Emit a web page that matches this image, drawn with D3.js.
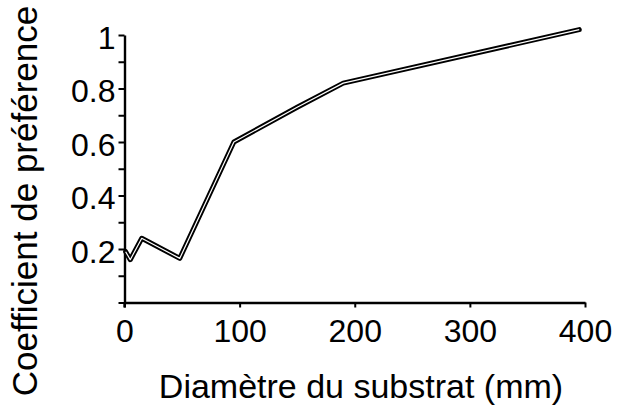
<!DOCTYPE html>
<html>
<head>
<meta charset="utf-8">
<script src="https://cdn.jsdelivr.net/npm/d3@7"></script>
<style>
  body { margin: 0; background: #fff; }
  svg text { font-family: "Liberation Sans", Arial, Helvetica, sans-serif; fill: #000; }
</style>
</head>
<body>
<svg id="chart"></svg>
<script>
var canvas_width = 623;
var canvas_height = 408;

// data
var diametre = [1, 5, 15, 48, 95, 150, 190, 395];
var coefficient = [0.19, 0.16, 0.24, 0.165, 0.60, 0.73, 0.82, 1.02];
var x_ticks = [0, 100, 200, 300, 400];
var y_major = [0.2, 0.4, 0.6, 0.8, 1];
var y_minor = [0, 0.1, 0.3, 0.5, 0.7, 0.9];
var x_title = "Diamètre du substrat (mm)";
var y_title = "Coefficient de préférence";

let svg = d3.select("#chart")
    .attr("width", canvas_width)
    .attr("height", canvas_height);

let x = d3.scaleLinear().domain([0, 400]).range([124.5, 585]);
let y = d3.scaleLinear().domain([0, 1]).range([302.5, 35]);

// y axis: domain line + all ticks
let yAxis = d3.axisLeft(y)
    .tickValues(y_major.concat(y_minor).sort(d3.ascending))
    .tickSize(6)
    .tickSizeOuter(0)
    .tickFormat(d => y_major.indexOf(d) >= 0 ? (d === 1 ? "1" : d3.format(".1f")(d)) : "");

let gy = svg.append("g")
    .attr("transform", "translate(" + x.range()[0] + ",0)")
    .call(yAxis);
gy.select(".domain").attr("stroke-width", 2.4);
gy.selectAll(".tick line").attr("stroke-width", 2);
gy.selectAll(".tick text")
    .attr("x", -9)
    .attr("dy", "0.42em")
    .style("font-size", "32px");
// axis line runs a bit below the x axis
gy.append("line")
    .attr("x1", 0).attr("x2", 0)
    .attr("y1", y(0)).attr("y2", y(0) + 5)
    .attr("stroke", "black").attr("stroke-width", 2.4);

let xAxis = d3.axisBottom(x)
    .tickValues(x_ticks)
    .tickSize(5)
    .tickSizeOuter(0)
    .tickFormat(d3.format("d"));

let gx = svg.append("g")
    .attr("transform", "translate(0," + y.range()[0] + ")")
    .call(xAxis);
gx.select(".domain").attr("stroke-width", 2.4);
gx.selectAll(".tick line").attr("stroke-width", 2);
gx.selectAll(".tick text")
    .attr("y", 17)
    .attr("dy", "0.71em")
    .style("font-size", "32px");

// double line: black outline with thin white core
let pts = diametre.map((d, i) => [d, coefficient[i]]);
let line = d3.line().x(d => x(d[0])).y(d => y(d[1]));

svg.append("path")
    .datum(pts)
    .attr("d", line)
    .attr("fill", "none")
    .attr("stroke", "black")
    .attr("stroke-width", 5)
    .attr("stroke-linejoin", "round")
    .attr("stroke-linecap", "round");

svg.append("path")
    .datum(pts)
    .attr("d", line)
    .attr("fill", "none")
    .attr("stroke", "white")
    .attr("stroke-width", 1.2)
    .attr("stroke-linejoin", "round");

// titles
svg.append("text")
    .attr("x", 361)
    .attr("y", 398)
    .attr("text-anchor", "middle")
    .style("font-size", "34px")
    .text(x_title);

svg.append("text")
    .attr("transform", "translate(37,201) rotate(-90)")
    .attr("text-anchor", "middle")
    .style("font-size", "35px")
    .text(y_title);
</script>
</body>
</html>
